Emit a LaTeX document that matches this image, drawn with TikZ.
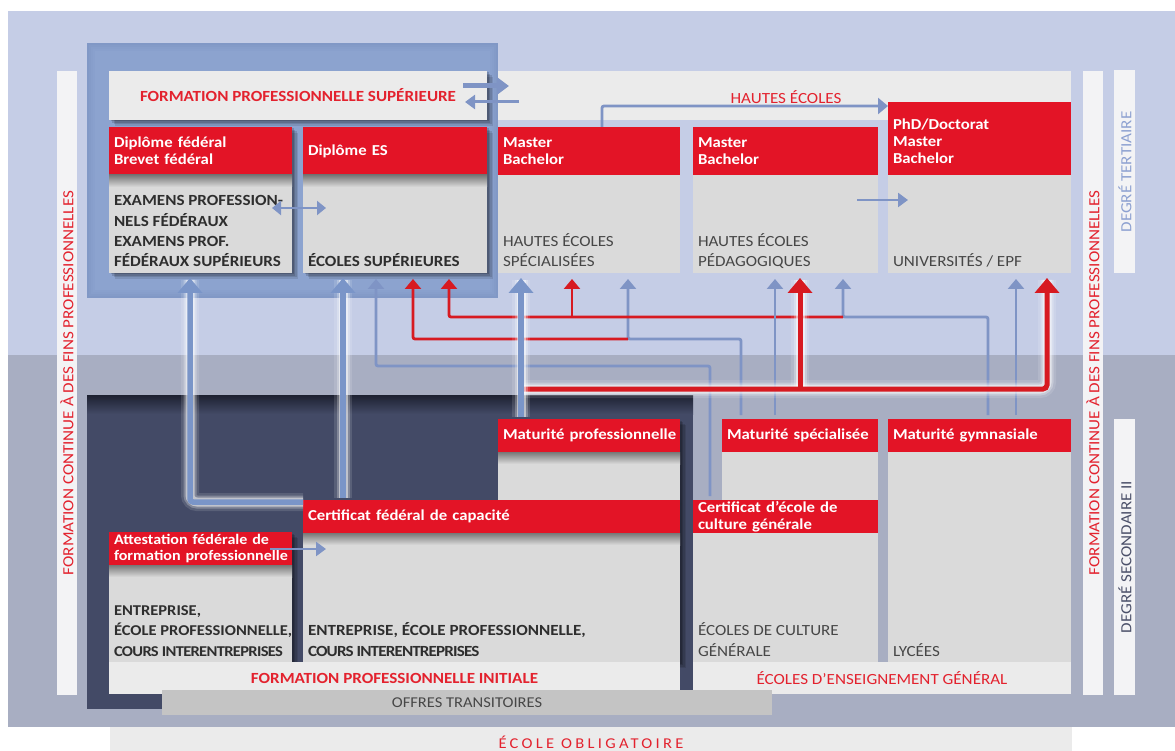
\documentclass[tikz,border=0pt]{standalone}
\usepackage{fontspec}
\setmainfont{Carlito}[FakeStretch=1.1]
\usetikzlibrary{arrows.meta}
\definecolor{bgtop}{HTML}{C5CDE6}
\definecolor{bgbot}{HTML}{A8AEC2}
\definecolor{bandg}{HTML}{EBEBEB}
\definecolor{stripg}{HTML}{F3F3F5}
\definecolor{hred}{HTML}{E31426}
\definecolor{tred}{HTML}{E3222E}
\definecolor{bodyg}{HTML}{DADADA}
\definecolor{frameb}{HTML}{8CA3CF}
\definecolor{frameedge}{HTML}{6E85B7}
\definecolor{navy}{HTML}{434A66}
\definecolor{navydark}{HTML}{1D2131}
\definecolor{ablue}{HTML}{7F94C5}
\definecolor{tblue}{HTML}{7A95C8}
\definecolor{ared}{HTML}{D71A21}
\definecolor{offg}{HTML}{C4C4C4}
\definecolor{txtd}{HTML}{2E2E2E}
\definecolor{txtg}{HTML}{474747}
\definecolor{tertc}{HTML}{8DA1D1}
\definecolor{secc}{HTML}{4B5069}
\newcommand\colshadow[4]{%
  \foreach \s/\o in {1.5/0.16,3/0.14,4.5/0.12,6/0.1}{%
    \fill[black,opacity=\o] (#1+\s,#2+\s) rectangle (#3+\s,#4+\s);}}
\newcommand\hdrshade[3]{%
  \shade[top color=bodyg!55!black, bottom color=bodyg] (#1,#3) rectangle (#2,#3+12);}
\newcommand\tightcours[1]{{\addfontfeature{LetterSpace=#1}COURS INTERENTREPRISES}}
\begin{document}
\begin{tikzpicture}[x=1pt,y=-1pt,
  every node/.style={inner sep=0pt,outer sep=0pt},
  hdr/.style={anchor=north west, fill=hred, text=white, align=left, inner xsep=5pt,
     font=\fontsize{15.2}{17}\selectfont\bfseries},
  bodybox/.style={anchor=north west, fill=bodyg},
  band/.style={anchor=north west, fill=bandg},
  btxtb/.style={anchor=base west, text=txtd, align=left, font=\fontsize{15.5}{20.4}\selectfont\bfseries},
  btxtr/.style={anchor=base west, text=txtg, align=left, font=\fontsize{15.5}{20.4}\selectfont},
  redtitle/.style={text=tred, font=\fontsize{15.5}{18}\selectfont\bfseries},
  redlabel/.style={text=tred, font=\fontsize{15.5}{18}\selectfont},
  vtext/.style={rotate=90, font=\fontsize{15.5}{18}\selectfont},
  strip/.style={anchor=north west, fill=stripg},
  thinb/.style={draw=ablue, line width=2.8pt, rounded corners=2pt, -{Triangle[width=16pt,length=10pt]}},
  thinr/.style={draw=ared, line width=2.8pt, rounded corners=2pt, -{Triangle[width=16pt,length=10pt]}},
  thickb/.style={draw=tblue, line width=5.5pt, rounded corners=3pt, -{Triangle[width=24pt,length=15pt]}},
  thickr/.style={draw=ared, line width=5pt, rounded corners=4pt, -{Triangle[width=24pt,length=15pt]}},
  glowa/.style={draw=white, line width=18pt, opacity=0.12, rounded corners=7pt},
  glowb/.style={draw=white, line width=13pt, opacity=0.25, rounded corners=6pt},
  glowc/.style={draw=white, line width=9pt, opacity=0.5, rounded corners=5pt},
  glow/.style={glowa, postaction={glowb}, postaction={glowc}},
]
\useasboundingbox (0,0) rectangle (1175,751);
\fill[white] (0,0) rectangle (1175,751);
% level backgrounds
\fill[bgtop] (8,11) rectangle (1175,355);
\fill[bgbot] (8,355) rectangle (1175,727);
\node[band, minimum width=962pt, minimum height=30pt, text=tred,
  font=\fontsize{15}{16}\selectfont\addfontfeature{LetterSpace=22}] (oblig) at (110,727) {ÉCOLE OBLIGATOIRE};

% side strips
\node[strip, minimum width=20pt, minimum height=624pt] (lstrip) at (57,71) {};
\node[vtext, text=tred] (ltext) at (67,383) {FORMATION CONTINUE À DES FINS PROFESSIONNELLES};
\node[strip, minimum width=20pt, minimum height=624pt] (rstrip) at (1083,71) {};
\node[vtext, text=tred] (rtext) at (1093,383) {FORMATION CONTINUE À DES FINS PROFESSIONNELLES};
\node[strip, minimum width=21pt, minimum height=203pt] (tstrip) at (1114,70) {};
\node[vtext, text=tertc] (ttext) at (1125,172) {DEGRÉ TERTIAIRE};
\node[strip, minimum width=21pt, minimum height=276pt] (sstrip) at (1114,419) {};
\node[vtext, text=secc] (stext) at (1125,557) {DEGRÉ SECONDAIRE II};

% tertiary level
\node[band, minimum width=962pt, minimum height=49pt] (heband) at (109,71) {};
\node[redlabel] (helabel) at (786,97) {HAUTES ÉCOLES};
\node[anchor=north west, fill=frameb, minimum width=411pt, minimum height=255pt] (frame) at (87,43) {};
\foreach \i/\o in {1/0.35,3/0.25,5/0.15,7/0.08}{
  \draw[frameedge, line width=2pt, opacity=\o] (87+\i,43+\i) rectangle (498-\i,298-\i);}
\colshadow{109}{71}{487}{120}
\node[band, minimum width=378pt, minimum height=49pt, redtitle] (fpsband) at (109,71) {FORMATION PROFESSIONNELLE SUPÉRIEURE};

\colshadow{109}{127}{292}{273}
\node[hdr, text width=173pt, minimum height=48pt] (dfH) at (109,127) {Diplôme fédéral\\Brevet fédéral};
\node[bodybox, minimum width=183pt, minimum height=98pt] (dfB) at (109,175) {};
\hdrshade{109}{292}{175}
\node[btxtb] (dfT) at (114,267) {EXAMENS PROFESSION-\\NELS FÉDÉRAUX\\EXAMENS PROF.\\FÉDÉRAUX SUPÉRIEURS};

\colshadow{303}{127}{487}{273}
\node[hdr, text width=174pt, minimum height=48pt] (esH) at (303,127) {Diplôme ES};
\node[bodybox, minimum width=184pt, minimum height=98pt] (esB) at (303,175) {};
\hdrshade{303}{487}{175}
\node[btxtb] (esT) at (308,267) {ÉCOLES SUPÉRIEURES};

\node[hdr, text width=172pt, minimum height=48pt] (hesH) at (498,127) {Master\\Bachelor};
\node[bodybox, minimum width=182pt, minimum height=98pt] (hesB) at (498,175) {};
\node[btxtr] (hesT) at (503,267) {HAUTES ÉCOLES\\SPÉCIALISÉES};

\node[hdr, text width=175pt, minimum height=48pt] (hepH) at (693,127) {Master\\Bachelor};
\node[bodybox, minimum width=185pt, minimum height=98pt] (hepB) at (693,175) {};
\node[btxtr] (hepT) at (698,267) {HAUTES ÉCOLES\\PÉDAGOGIQUES};

\node[hdr, text width=173pt, minimum height=73pt] (uniH) at (888,102) {\rule{0pt}{17pt}PhD/Doctorat\\Master\\Bachelor};
\node[bodybox, minimum width=183pt, minimum height=98pt] (uniB) at (888,175) {};
\node[btxtr] (uniT) at (893,267) {UNIVERSITÉS / EPF};

% secondary level
\node[anchor=north west, fill=navy, minimum width=606pt, minimum height=314pt] (navy) at (87,395) {};
\shade[top color=navydark, bottom color=navy] (87,395) rectangle (693,414);

\colshadow{498}{419}{680}{500}
\node[hdr, text width=172pt, minimum height=33pt] (mpH) at (498,419) {\mbox{Maturité professionnelle}};
\node[bodybox, minimum width=182pt, minimum height=48pt] (mpB) at (498,452) {};
\hdrshade{498}{680}{452}

\colshadow{303}{500}{680}{662}
\node[hdr, text width=367pt, minimum height=33pt] (cfcH) at (303,500) {Certificat fédéral de capacité};
\node[bodybox, minimum width=377pt, minimum height=129pt] (cfcB) at (303,533) {};
\hdrshade{303}{680}{533}
\node[btxtb] (cfcT) at (308,656) {ENTREPRISE, ÉCOLE PROFESSIONNELLE,\\\tightcours{-5.5}};

\colshadow{109}{532}{292}{662}
\node[hdr, text width=173pt, minimum height=33pt, font=\fontsize{14.6}{16.5}\selectfont\bfseries] (afpH) at (109,532) {\mbox{Attestation fédérale de}\\\mbox{formation professionnelle}};
\node[bodybox, minimum width=183pt, minimum height=97pt] (afpB) at (109,565) {};
\hdrshade{109}{292}{565}
\node[btxtb, font=\fontsize{15}{20.4}\selectfont\bfseries] (afpT) at (114,656) {ENTREPRISE,\\ÉCOLE PROFESSIONNELLE,\\\tightcours{-4.5}};

\node[hdr, text width=146pt, minimum height=33pt] (msH) at (722,419) {\mbox{Maturité spécialisée}};
\node[bodybox, minimum width=156pt, minimum height=48pt] (msB) at (722,452) {};
\node[hdr, text width=175pt, minimum height=33pt] (cecH) at (693,500) {Certificat d’école de\\culture générale};
\node[bodybox, minimum width=185pt, minimum height=129pt] (cecB) at (693,533) {};
\node[btxtr] (cecT) at (698,656) {ÉCOLES DE CULTURE\\GÉNÉRALE};
\node[hdr, text width=173pt, minimum height=33pt] (mgH) at (888,419) {Maturité gymnasiale};
\node[bodybox, minimum width=183pt, minimum height=210pt] (mgB) at (888,452) {};
\node[btxtr] (mgT) at (893,656) {LYCÉES};

\node[band, minimum width=571pt, minimum height=32pt, redtitle] (fpi) at (109,662) {FORMATION PROFESSIONNELLE INITIALE};
\node[band, minimum width=378pt, minimum height=32pt, redlabel] (eeg) at (693,662) {ÉCOLES D’ENSEIGNEMENT GÉNÉRAL};
\node[anchor=north west, fill=offg, minimum width=610pt, minimum height=25pt, text=txtg,
  font=\fontsize{15}{17}\selectfont] (offres) at (162,690) {OFFRES TRANSITOIRES};

% thin connectors
\draw[thinb, shorten <=4pt, shorten >=6pt] (710,0 |- cecH.north) -- (710,366) -| (376,0 |- esB.south);
\draw[thinb, shorten <=4pt, shorten >=6pt] (741,0 |- msH.north) -- (741,339) -| (628,0 |- hesB.south);
\coordinate (jms) at (628,339);
\draw[thinr, shorten >=6pt] (jms) -| (413,0 |- esB.south);
\draw[thinb, shorten <=4pt, shorten >=6pt] (988,0 |- mgH.north) -- (988,317) -| (843,0 |- hepB.south);
\coordinate (jmg) at (843,317);
\draw[thinr, shorten >=6pt] (jmg) -| (449,0 |- esB.south);
\coordinate (jhes) at (572,317);
\draw[thinr, shorten >=6pt] (jhes) -- (572,0 |- hesB.south);
\draw[thinb, shorten <=4pt, shorten >=6pt] (775,0 |- msH.north) -- (775,0 |- hepB.south);
\draw[thinb, shorten <=4pt, shorten >=6pt] (1016,0 |- mgH.north) -- (1016,0 |- uniB.south);
\draw[thinb] (602,0 |- hesH.north) |- (uniH.west |- 0,106);

% thick red (passerelle)
\coordinate (jmp) at (522,389);
\draw[glow] (jmp) -- (1047,389) -- (1047,280);
\draw[glow] (800,389) -- (800,280);
\draw[thickr, shorten >=5pt] (jmp) -| (1047,0 |- uniB.south);
\draw[thickr, shorten >=5pt] (800,389) -- (800,0 |- hepB.south);

% thick blue
\draw[glow] (303,502) -| (190,280);
\draw[thickb, shorten >=5pt] ([yshift=-2pt]cfcH.north west) -| (190,0 |- dfB.south);
\draw[glow] (343,498) -- (343,280);
\draw[thickb, shorten <=2pt, shorten >=5pt] (343,0 |- cfcH.north) -- (343,0 |- esB.south);
\draw[glow] (521,417) -- (521,280);
\draw[thickb, shorten <=2pt, shorten >=5pt] (521,0 |- mpH.north) -- (521,0 |- hesB.south);

% short arrows
\draw[draw=ablue, line width=2.8pt, {Triangle[width=14pt,length=9pt]}-{Triangle[width=14pt,length=9pt]}]
  ([xshift=-20pt]dfB.east |- 0,208) -- ([xshift=23pt]esB.west |- 0,208);
\draw[draw=ablue, line width=2.8pt, -{Triangle[width=14pt,length=10pt]}]
  ([xshift=-22pt]afpB.east |- 0,549) -- ([xshift=23pt]cfcB.west |- 0,549);
\draw[draw=ablue, line width=2.8pt, -{Triangle[width=14pt,length=10pt]}]
  ([xshift=-21pt]hepB.east |- 0,200) -- ([xshift=20pt]uniB.west |- 0,200);
\draw[draw=ablue, line width=5pt, -{Triangle[width=17pt,length=12pt]}]
  ([xshift=-24pt]fpsband.east |- 0,86) -- ([xshift=22pt]fpsband.east |- 0,86);
\draw[draw=ablue, line width=3pt, -{Triangle[width=14pt,length=10pt]}]
  ([xshift=32pt]fpsband.east |- 0,102) -- ([xshift=-22pt]fpsband.east |- 0,102);
\end{tikzpicture}
\end{document}
